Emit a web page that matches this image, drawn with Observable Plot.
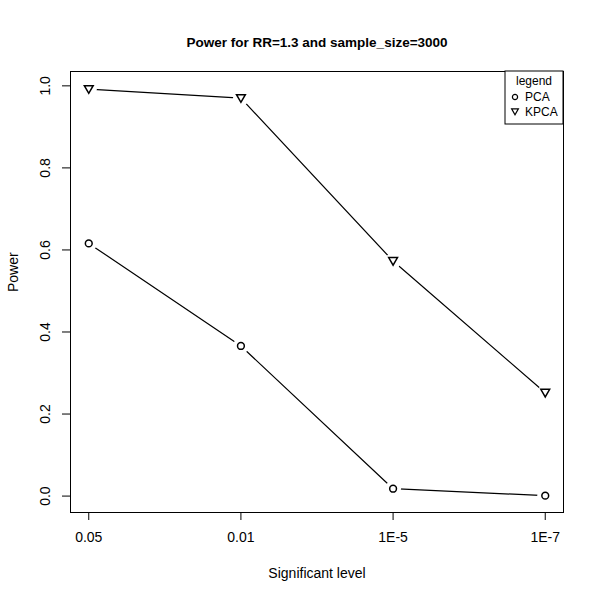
<!DOCTYPE html>
<html><head><meta charset="utf-8">
<script src="https://cdn.jsdelivr.net/npm/d3@7"></script>
<script src="https://cdn.jsdelivr.net/npm/@observablehq/plot@0.6"></script>
<style>
body{margin:0;background:#fff}
svg{font-family:"Liberation Sans",Arial,Helvetica,sans-serif}
</style>
</head><body><div id="chart"></div>
<script>
const levels = ["0.05", "0.01", "1E-5", "1E-7"];
const pcaPower = [0.616, 0.366, 0.018, 0.001];
const kpcaPower = [0.992, 0.970, 0.573, 0.252];
const yTicks = [0, 0.2, 0.4, 0.6, 0.8, 1.0];
const seriesNames = ["PCA", "KPCA"];
const titleText = "Power for RR=1.3 and sample_size=3000";
const xLabel = "Significant level";
const yLabel = "Power";
const legendTitle = "legend";

const pcaRows = levels.map((l, i) => ({series: "PCA", idx: i + 1, level: l, power: pcaPower[i]}));
const kpcaRows = levels.map((l, i) => ({series: "KPCA", idx: i + 1, level: l, power: kpcaPower[i]}));
const rows = pcaRows.concat(kpcaRows);

const triDown = {
  draw(ctx, size) {
    const r = Math.sqrt(size / Math.PI);
    const h = r * 1.3;
    ctx.moveTo(-h, -h * 0.78);
    ctx.lineTo(h, -h * 0.78);
    ctx.lineTo(0, h * 0.95);
    ctx.closePath();
  }
};

const chart = Plot.plot({
  width: 600,
  height: 600,
  marginLeft: 70,
  marginRight: 37,
  marginTop: 71,
  marginBottom: 88,
  style: {fontFamily: '"Liberation Sans",Arial,Helvetica,sans-serif', fontSize: "14px", background: "white", color: "black"},
  x: {domain: [0.88, 4.12]},
  y: {domain: [-0.04, 1.035]},
  marks: [
    Plot.line(rows, {x: "idx", y: "power", z: "series", stroke: "black", strokeWidth: 1.2}),
    Plot.dot(rows, {x: "idx", y: "power", r: 8, fill: "white", stroke: null}),
    Plot.dot(pcaRows, {x: "idx", y: "power", symbol: "circle", r: 3.4, stroke: "black", strokeWidth: 1.5, fill: "none"}),
    Plot.dot(kpcaRows, {x: "idx", y: "power", symbol: triDown, r: 3.4, stroke: "black", strokeWidth: 1.5, fill: "none"}),
    Plot.frame({stroke: "black", strokeWidth: 1}),
    Plot.axisX({ticks: [1, 2, 3, 4], tickFormat: i => levels[i - 1], tickSize: 8, tickPadding: 12, label: null, fontSize: 14}),
    Plot.axisY({ticks: yTicks, tickSize: 8, tickFormat: () => "", label: null}),
    Plot.text(yTicks, {y: d => d, text: d => d.toFixed(1), frameAnchor: "left", dx: -25, rotate: -90, textAnchor: "middle", fontSize: 14}),
    Plot.text([titleText], {text: d => d, frameAnchor: "top", dy: -34, fontWeight: "bold", fontSize: 13.5}),
    Plot.text([xLabel], {text: d => d, frameAnchor: "bottom", dy: 65, fontSize: 14}),
    Plot.text([yLabel], {text: d => d, frameAnchor: "left", dx: -57, rotate: -90, fontSize: 14})
  ]
});
document.getElementById("chart").appendChild(chart);

// legend box (top-right, inside the frame)
const svg = d3.select(chart);
const lg = svg.append("g").attr("font-size", 12).attr("fill", "black");
lg.append("rect").attr("x", 505).attr("y", 71).attr("width", 58).attr("height", 53)
  .attr("fill", "white").attr("stroke", "black").attr("stroke-width", 1);
lg.append("text").attr("x", 534).attr("y", 81).attr("text-anchor", "middle").attr("dy", "0.35em").text(legendTitle);
const legendSymbols = [d3.symbol(d3.symbolCircle, Math.PI * 2.6 * 2.6), d3.symbol(triDown, Math.PI * 2.6 * 2.6)];
seriesNames.forEach((name, i) => {
  const yy = 97 + i * 14.5;
  lg.append("path").attr("d", legendSymbols[i]()).attr("transform", `translate(515,${yy})`)
    .attr("fill", "none").attr("stroke", "black").attr("stroke-width", 1.2);
  lg.append("text").attr("x", 525).attr("y", yy).attr("dy", "0.35em").attr("text-anchor", "start").text(name);
});
</script>
</body></html>
